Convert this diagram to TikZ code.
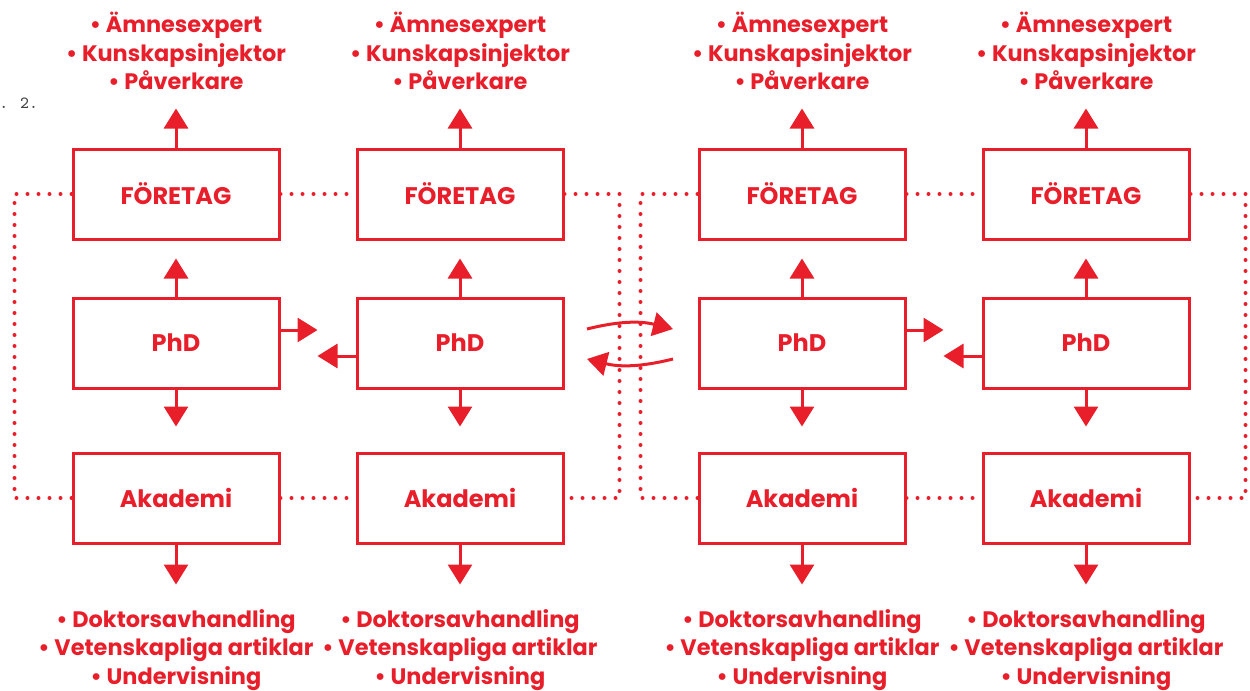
\documentclass[tikz,border=0pt]{standalone}
\usepackage{fontspec}
\setmainfont{Poppins}
\usetikzlibrary{arrows.meta}
\definecolor{figred}{RGB}{232,30,42}

\tikzset{
  box/.style={draw=figred, line width=1.5pt, minimum width=103pt, minimum height=45pt,
    inner sep=0pt, text=figred, font=\bfseries\fontsize{12}{14}\selectfont},
  arr/.style={figred, line width=1.5pt, -{Triangle[length=10pt,width=12pt]}},
  dots/.style={figred, line width=2pt, line cap=round, dash pattern=on 0pt off 5.5pt},
  lst/.style={text=figred, align=center, inner sep=0pt,
    font=\bfseries\fontsize{11.2}{14.25}\selectfont},
}

\begin{document}
\begin{tikzpicture}[x=0.5pt, y=-0.5pt]
\useasboundingbox (0,0) rectangle (1250,691);

\node[anchor=west, inner sep=0pt, text=black!75, font=\ttfamily\fontsize{8.5}{10}\selectfont] (fig) at (-1,103) {. 2.};

%% kolumnerna
\foreach \i/\x in {1/176, 2/460, 3/802, 4/1086} {
  \node[box] (f\i) at (\x,194) {FÖRETAG};
  \node[box] (p\i) at (\x,343) {PhD};
  \node[box] (a\i) at (\x,498) {Akademi};
  \node[lst] (t\i) at (\x,51) {• Ämnesexpert\\• Kunskapsinjektor\\• Påverkare};
  \node[lst] (b\i) at (\x,650) {• Doktorsavhandling\\• Vetenskapliga artiklar\\• Undervisning};
  \draw[arr] (f\i.north) -- ++(0,-39);
  \draw[arr, shorten >=9pt] (p\i.north) -- (f\i.south);
  \draw[arr, shorten >=12.5pt] (p\i.south) -- (a\i.north);
  \draw[arr] (a\i.south) -- ++(0,40);
}

%% PhD till PhD
\draw[arr] ([yshift=6.5pt]p1.east) -- ++(37,0);
\draw[arr] ([yshift=-6.5pt]p2.west) -- ++(-38,0);
\draw[arr] ([yshift=6.5pt]p3.east) -- ++(37,0);
\draw[arr] ([yshift=-6.5pt]p4.west) -- ++(-38,0);

%% mellan grupperna
\coordinate (ul) at (587,329);
\coordinate (ur) at (673,329);
\coordinate (dr) at (673,359);
\coordinate (dl) at (587,359);
\draw[arr] (ul) to[bend left=14] (ur);
\draw[arr] (dr) to[bend left=14] (dl);

%% prickade ramar
\draw[dots] (f1.west) -- ++(-57,0) |- (a1.west);
\draw[dots] (f1.east) -- (f2.west);
\draw[dots] (a1.east) -- (a2.west);
\draw[dots] (f2.east) -- ++(55,0) |- (a2.east);
\draw[dots] (f3.west) -- ++(-57,0) |- (a3.west);
\draw[dots] (f3.east) -- (f4.west);
\draw[dots] (a3.east) -- (a4.west);
\draw[dots] (f4.east) -- ++(55,0) |- (a4.east);

\end{tikzpicture}
\end{document}
